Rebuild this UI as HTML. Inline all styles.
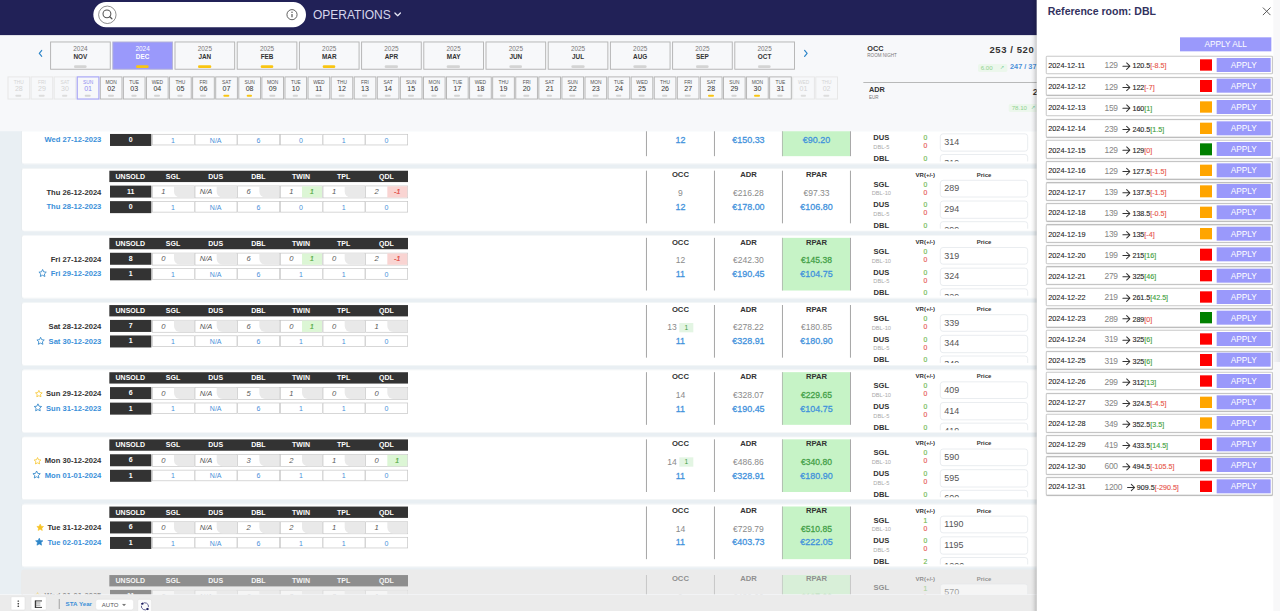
<!DOCTYPE html>
<html lang="en"><head><meta charset="utf-8"><title>Operations</title>
<style>
*{box-sizing:border-box;margin:0;padding:0}
html,body{width:1280px;height:611px;overflow:hidden;background:#f7f8fa}
body{font-family:"Liberation Sans",sans-serif;color:#333}
#vp{position:absolute;left:0;top:0;width:1280px;height:611px;overflow:hidden}
#root{position:absolute;left:0;top:0;width:1920px;height:916.5px;transform:scale(0.6666667);transform-origin:0 0;overflow:hidden;background:#f7f8fa}
#root div,#root svg,#root span.abs{position:absolute}
/* top bar */
#topbar{left:0;top:0;width:1920px;height:52.5px;background:#212157}
#search{left:139.5px;top:3px;width:319px;height:37.5px;border-radius:19px;background:#fff}
#sicon{left:6.5px;top:3.6px;width:30px;height:30px}
#iicon{left:288.5px;top:8.5px;width:20px;height:20px}
#ops{left:469.5px;top:10.5px;height:22px;line-height:22px;font-size:18px;color:#d6d6ec;white-space:nowrap}
#opschev{left:590.5px;top:17.5px;width:11px;height:7.5px}
/* header strip */
#hdr{left:0;top:52.5px;width:1920px;height:144.5px;background:#f7f8fa}
.chev{width:7.6px;height:12px}
#strip{left:0;top:0;width:1920px;height:197px}
.mon{top:62px;width:91px;height:42.5px;border:1.5px solid transparent}

.mon div{left:0;width:100%;text-align:center;white-space:nowrap}
.my{top:4.2px;font-size:9.6px;line-height:11px;color:#777}
.mm{top:17.2px;font-size:9.6px;line-height:11px;color:#333;font-weight:bold}
.mon.sel .my,.mon.sel .mm{color:#fff}
.mon .gbar,.mon .ybar{left:34.5px!important;width:19.5px!important;top:34.6px;height:4px;border-radius:2px}
.gbar{background:#d4d4d4}
.ybar{background:#f9c513}
.day{top:114.6px;width:34px;height:34.8px;border:1.5px solid transparent}
.day div{left:0;width:100%;text-align:center;white-space:nowrap}
.dw{top:3.8px;font-size:7.3px;line-height:9px;color:#555}
.dn{top:10px;font-size:10.6px;line-height:12px;color:#333}
.day .gbar,.day .ybar{left:11.2px!important;width:8.6px!important;top:26px;height:3px;border-radius:1.5px}

.day.dim .dw,.day.dim .dn{color:#d4d4d4}
.day.dim .gbar{background:#ddd}

.day.cur .dw,.day.cur .dn{color:#8f8df0}
/* KPIs */
.kt{font-size:11px;line-height:12px;margin-top:-1.4px;font-weight:bold;color:#333;white-space:nowrap}
.ks{font-size:6.8px;line-height:7px;color:#777;white-space:nowrap}
.kv{text-align:right;width:120px;font-size:14.2px;line-height:18px;font-weight:bold;color:#333;white-space:nowrap;letter-spacing:.9px;margin-top:1px}
.kb{font-size:11px;line-height:13px;font-weight:bold;color:#4a90d9;white-space:nowrap}
.pill{height:12px;background:#ecf7ec;border-radius:2.5px;font-size:9.2px;line-height:12.4px;color:#8fd28f;padding-left:4.5px;white-space:nowrap}
#root .pill .ar{position:absolute;left:33px;top:-0.5px;font-size:7.5px;color:#7fcf9f}
.kline{left:1294.5px;top:122.8px;width:270px;height:1.5px;background:#9a9a9a}
/* scroll area */
#scroll{left:0;top:0;width:1920px;height:916.5px;clip-path:inset(197px 0 25px 0);background:#e9eff3}
.card{left:33px;width:1540px;height:95px;background:#fff;box-shadow:inset 0 1px 0 #eef2f4,inset 0 -1px 0 #eef2f4,-1px 0 0 #e6eaed;border-radius:3px}
.bar{left:130.5px;top:4px;width:448px;height:17px;background:#333;transform:translateY(.1px)}
.bar span{display:inline-block;width:64px;text-align:center;color:#fff;font-weight:bold;font-size:10.5px;line-height:17.5px;vertical-align:top;padding-top:0}
.lbl{left:0;width:119px;text-align:right;font-size:11.4px;line-height:14px;font-weight:bold;white-space:nowrap;color:#333}
.l1{top:28.8px}
.l2{top:49.8px;color:#3a8fd9}
#root .lbl .star{position:static;display:inline-block;width:12.6px;height:12.6px;vertical-align:-2.3px;margin-right:4.2px}
#root .lbl .star.b{width:13.8px;height:13.8px;vertical-align:-2.2px;margin-right:5.2px}
.row{left:131.5px;height:17.5px;width:447px;white-space:nowrap}
.r1{top:26px;transform:translateY(.4px)}.r2{top:49px;transform:translateY(.7px)}
#root .row>div{position:absolute;top:0;height:17.5px}
.un{left:0;width:62.8px;background:#333;color:#fff;font-weight:bold;font-size:10.5px;line-height:17.5px;text-align:center}
.c1,.c2{width:64px;border:1px solid #c4c4c4;background:#fff}
#root .row>.c2{color:#4a90d9;font-size:10.5px;line-height:17.6px;text-align:center;height:17px}
#root .row>.c1{height:19px}
.c1 i{position:absolute;left:0;width:33px;top:0;line-height:17.6px;font-size:11.4px;color:#5a5a5a;text-align:center}
.c1 b{position:absolute;left:32.5px;right:0;top:0;bottom:0;font-size:10.4px;line-height:17.6px;text-align:center;font-style:italic;font-weight:normal}
.c1 b.g{background:#e9e9e9;border-bottom-left-radius:9px}
.c1 b.p{background:#dcf6d5;color:#55aa44;-webkit-text-stroke:.3px #55aa44}
.c1 b.n{background:#f9d4d2;color:#e0453c;-webkit-text-stroke:.3px #e0453c}
.vs{top:4px;width:2px;height:78.5px;background:#a2a2a2;transform:translateX(-.35px) scaleX(.72)}
.kc{top:4px;width:100.5px;height:78.5px}
.kc.grn{background:#c6f3c6}
.kc div{left:0;width:100%;text-align:center;white-space:nowrap}
.kh{top:-0.2px;font-size:11.5px;line-height:12px;font-weight:bold;color:#333}
.k1{top:26.8px;font-size:12.8px;line-height:14px;color:#8a8a8a}
.k2{top:47.5px;font-size:13.4px;line-height:14px;color:#3f92dc;-webkit-text-stroke:.4px #3f92dc}
.kc.grn .k1{color:#43a047;-webkit-text-stroke:.4px #43a047}
.ob{display:inline-block;background:#e3f5e3;color:#3f9f3f;font-size:10px;line-height:14px;width:21px;text-align:center;margin-left:4px;vertical-align:top}
.ps{left:0;top:0;width:1540px;height:90.6px;overflow:hidden}
.vrh{left:1325px;width:60px;top:6px;text-align:center;font-size:9px;line-height:9px;font-weight:bold;color:#333;white-space:nowrap}
.prh{left:1413px;width:60px;top:6px;text-align:center;font-size:8.9px;line-height:9px;font-weight:bold;color:#333}
.rn{left:1259px;width:60px;text-align:center;font-size:11.4px;line-height:13px;font-weight:bold;color:#333}
.rs{left:1259px;width:60px;text-align:center;font-size:8.5px;line-height:9px;color:#a9a9a9}
.vp,.vn{left:1345px;width:20px;text-align:center;font-size:10.2px;line-height:10px}
.vp{color:#74bb55;-webkit-text-stroke:.25px #74bb55}.vn{color:#e8605a;-webkit-text-stroke:.25px #e8605a}
.pin{left:1377px;width:132px;height:26.6px;border:1.5px solid #e0e4e9;border-radius:4.5px;background:#fff;font-size:13.4px;line-height:24.4px;padding-left:5.5px;color:#555}
.card{overflow:hidden}
.card.faded{background:#ebebeb;box-shadow:0 -2px 0 #ebebeb,-1px 0 0 #ebebeb,-1px -2px 0 #ebebeb}
.card.faded>*{opacity:.5}
/* bottom bar */
#bbar{left:0;transform:translateY(.5px);top:892px;width:1920px;height:25px;background:#ebebeb}
.bb{top:2.4px;height:20.4px;background:#fff;border:1px solid #e2e2e2;border-radius:2px}
.bb svg{left:0;top:0;width:100%;height:21px}
.bsep{left:88.4px;top:6.2px;width:1.5px;height:14.5px;background:#b5b5b5}
.sta{left:98.4px;top:9.3px;font-size:9.3px;line-height:11px;font-weight:bold;color:#3b8fd8;white-space:nowrap}
.auto{left:143.4px;top:6.2px;width:58px;height:17px;background:#fff;border:1px solid #e4e4e4;border-radius:4px;font-size:9px;line-height:16.2px;color:#555;padding-left:8.4px}
.auto svg{left:38px;top:5.4px;width:8.2px;height:4.2px}
/* panel */
#pshadow{left:1546px;top:0;width:9.5px;height:916.5px;background:linear-gradient(to right,rgba(0,0,0,0),rgba(0,0,0,.04) 35%,rgba(0,0,0,.13) 70%,rgba(0,0,0,.26))}
#panel{left:1555.2px;top:0;width:365px;height:916.5px;background:#fff}
#ptitle{left:16.3px;top:7px;font-size:15.8px;line-height:19px;font-weight:bold;color:#32325e;white-space:nowrap}
#pclose{left:338px;top:10.4px;width:14px;height:14px}
#applyall{left:214.8px;top:56.2px;width:137px;height:20.6px;background:#9a99fb;color:#fff;font-size:12.4px;line-height:21.6px;text-align:center}
.prow{left:13.5px;width:340.5px;height:27.2px;border:1.5px solid #bcbcbc;box-shadow:0 0 1.5px rgba(0,0,0,.28);background:#fff;border-radius:2px}
#root .prow span{position:absolute}
.pd{left:2.6px;top:7.1px;font-size:11px;line-height:12px;color:#222;-webkit-text-stroke:.12px #222;white-space:nowrap}
.pa{left:87px;top:5.4px;font-size:12.6px;letter-spacing:-.35px;line-height:14px;color:#858585;white-space:nowrap}
#root .parr{position:relative;display:inline-block;top:2.6px;margin-left:6.4px;margin-right:2.2px;width:13.4px;height:12.5px}
#root .prow .pb{position:static;font-size:10.7px;line-height:12px;color:#2a2a2a;-webkit-text-stroke:.2px #2a2a2a;white-space:nowrap;letter-spacing:0}
#root .prow .pb span{position:static}
.dn_{color:#e8564c;-webkit-text-stroke:.2px #e8564c}.dp_{color:#3f9f3f;-webkit-text-stroke:.2px #3f9f3f}
.sq{left:230.5px;top:3.8px;width:18px;height:17.3px}
.ap{left:255.8px;top:1.8px;width:80.6px;height:21px;background:#9a99fb;color:#fff;font-size:12.4px;line-height:22.6px;text-align:center}

#sbar{left:1910px;top:235.5px;width:10px;height:307px;background:linear-gradient(to right,#f4f4f6,#e4e5e9)}
#strk{left:1910px;top:0;width:10px;height:916.5px;background:#f8f8f9}

.card.faded>*{margin-top:1.6px}
.card.cd6 .l1{top:27.9px}
.card.cd3 .l2{top:50.8px}
.card.cd6 .k2{top:46.8px}

</style></head>
<body><div id="vp"><div id="root">
<div id="topbar"></div>
<div id="search"><svg id="sicon" viewBox="0 0 30 30"><circle cx="15" cy="15.2" r="13.1" fill="none" stroke="#666" stroke-width="1.1"/><circle cx="14.4" cy="13.8" r="5.9" fill="none" stroke="#555" stroke-width="1.6"/><path d="M18.7 18.2 L21.9 21.2" stroke="#555" stroke-width="1.8" stroke-linecap="round"/></svg><svg id="iicon" viewBox="0 0 20 20"><circle cx="10" cy="10" r="7.6" fill="none" stroke="#555" stroke-width="1.4"/><path d="M10 9 V14" stroke="#555" stroke-width="1.8"/><circle cx="10" cy="6.3" r="1.1" fill="#555"/></svg></div>
<div id="ops">OPERATIONS</div><svg id="opschev" viewBox="0 0 12 8"><path d="M1.5 1.5 L6 6 L10.5 1.5" fill="none" stroke="#e6e6f5" stroke-width="2.1" stroke-linecap="round" stroke-linejoin="round"/></svg>
<div id="hdr"></div>
<svg class="chev" style="left:56.60px;top:74.20px" viewBox="0 0 10 16"><path d="M7.5 2 L2.5 8 L7.5 14" fill="none" stroke="#2e86c9" stroke-width="2.4" stroke-linecap="round" stroke-linejoin="round"/></svg>
<svg id="strip" viewBox="0 0 1920 197"><rect x="75.90" y="62.95" width="89.50" height="40.9" fill="#f7f8fa" stroke="#b3b3b3" stroke-width="1.4"/><rect x="169.20" y="62.95" width="89.50" height="40.9" fill="#9a99fb" stroke="#b4b3d6" stroke-width="1.4"/><rect x="262.50" y="62.95" width="89.50" height="40.9" fill="#f7f8fa" stroke="#b3b3b3" stroke-width="1.4"/><rect x="355.80" y="62.95" width="89.50" height="40.9" fill="#f7f8fa" stroke="#b3b3b3" stroke-width="1.4"/><rect x="449.10" y="62.95" width="89.50" height="40.9" fill="#f7f8fa" stroke="#b3b3b3" stroke-width="1.4"/><rect x="542.40" y="62.95" width="89.50" height="40.9" fill="#f7f8fa" stroke="#b3b3b3" stroke-width="1.4"/><rect x="635.70" y="62.95" width="89.50" height="40.9" fill="#f7f8fa" stroke="#b3b3b3" stroke-width="1.4"/><rect x="729.00" y="62.95" width="89.50" height="40.9" fill="#f7f8fa" stroke="#b3b3b3" stroke-width="1.4"/><rect x="822.30" y="62.95" width="89.50" height="40.9" fill="#f7f8fa" stroke="#b3b3b3" stroke-width="1.4"/><rect x="915.60" y="62.95" width="89.50" height="40.9" fill="#f7f8fa" stroke="#b3b3b3" stroke-width="1.4"/><rect x="1008.90" y="62.95" width="89.50" height="40.9" fill="#f7f8fa" stroke="#b3b3b3" stroke-width="1.4"/><rect x="1102.20" y="62.95" width="89.50" height="40.9" fill="#f7f8fa" stroke="#b3b3b3" stroke-width="1.4"/><rect x="12.00" y="115.35" width="32.50" height="33.2" fill="#f7f8fa" stroke="#e6e6e6" stroke-width="1.4"/><rect x="46.62" y="115.35" width="32.50" height="33.2" fill="#f7f8fa" stroke="#e6e6e6" stroke-width="1.4"/><rect x="81.24" y="115.35" width="32.50" height="33.2" fill="#f7f8fa" stroke="#e6e6e6" stroke-width="1.4"/><rect x="115.86" y="115.35" width="32.50" height="33.2" fill="#f7f8fa" stroke="#a9a7f5" stroke-width="1.8"/><rect x="150.48" y="115.35" width="32.50" height="33.2" fill="#f7f8fa" stroke="#b3b3b3" stroke-width="1.4"/><rect x="185.10" y="115.35" width="32.50" height="33.2" fill="#f7f8fa" stroke="#b3b3b3" stroke-width="1.4"/><rect x="219.72" y="115.35" width="32.50" height="33.2" fill="#f7f8fa" stroke="#b3b3b3" stroke-width="1.4"/><rect x="254.34" y="115.35" width="32.50" height="33.2" fill="#f7f8fa" stroke="#b3b3b3" stroke-width="1.4"/><rect x="288.96" y="115.35" width="32.50" height="33.2" fill="#f7f8fa" stroke="#b3b3b3" stroke-width="1.4"/><rect x="323.58" y="115.35" width="32.50" height="33.2" fill="#f7f8fa" stroke="#b3b3b3" stroke-width="1.4"/><rect x="358.20" y="115.35" width="32.50" height="33.2" fill="#f7f8fa" stroke="#b3b3b3" stroke-width="1.4"/><rect x="392.82" y="115.35" width="32.50" height="33.2" fill="#f7f8fa" stroke="#b3b3b3" stroke-width="1.4"/><rect x="427.44" y="115.35" width="32.50" height="33.2" fill="#f7f8fa" stroke="#b3b3b3" stroke-width="1.4"/><rect x="462.06" y="115.35" width="32.50" height="33.2" fill="#f7f8fa" stroke="#b3b3b3" stroke-width="1.4"/><rect x="496.68" y="115.35" width="32.50" height="33.2" fill="#f7f8fa" stroke="#b3b3b3" stroke-width="1.4"/><rect x="531.30" y="115.35" width="32.50" height="33.2" fill="#f7f8fa" stroke="#b3b3b3" stroke-width="1.4"/><rect x="565.92" y="115.35" width="32.50" height="33.2" fill="#f7f8fa" stroke="#b3b3b3" stroke-width="1.4"/><rect x="600.54" y="115.35" width="32.50" height="33.2" fill="#f7f8fa" stroke="#b3b3b3" stroke-width="1.4"/><rect x="635.16" y="115.35" width="32.50" height="33.2" fill="#f7f8fa" stroke="#b3b3b3" stroke-width="1.4"/><rect x="669.78" y="115.35" width="32.50" height="33.2" fill="#f7f8fa" stroke="#b3b3b3" stroke-width="1.4"/><rect x="704.40" y="115.35" width="32.50" height="33.2" fill="#f7f8fa" stroke="#b3b3b3" stroke-width="1.4"/><rect x="739.02" y="115.35" width="32.50" height="33.2" fill="#f7f8fa" stroke="#b3b3b3" stroke-width="1.4"/><rect x="773.64" y="115.35" width="32.50" height="33.2" fill="#f7f8fa" stroke="#b3b3b3" stroke-width="1.4"/><rect x="808.26" y="115.35" width="32.50" height="33.2" fill="#f7f8fa" stroke="#b3b3b3" stroke-width="1.4"/><rect x="842.88" y="115.35" width="32.50" height="33.2" fill="#f7f8fa" stroke="#b3b3b3" stroke-width="1.4"/><rect x="877.50" y="115.35" width="32.50" height="33.2" fill="#f7f8fa" stroke="#b3b3b3" stroke-width="1.4"/><rect x="912.12" y="115.35" width="32.50" height="33.2" fill="#f7f8fa" stroke="#b3b3b3" stroke-width="1.4"/><rect x="946.74" y="115.35" width="32.50" height="33.2" fill="#f7f8fa" stroke="#b3b3b3" stroke-width="1.4"/><rect x="981.36" y="115.35" width="32.50" height="33.2" fill="#f7f8fa" stroke="#b3b3b3" stroke-width="1.4"/><rect x="1015.98" y="115.35" width="32.50" height="33.2" fill="#f7f8fa" stroke="#b3b3b3" stroke-width="1.4"/><rect x="1050.60" y="115.35" width="32.50" height="33.2" fill="#f7f8fa" stroke="#b3b3b3" stroke-width="1.4"/><rect x="1085.22" y="115.35" width="32.50" height="33.2" fill="#f7f8fa" stroke="#b3b3b3" stroke-width="1.4"/><rect x="1119.84" y="115.35" width="32.50" height="33.2" fill="#f7f8fa" stroke="#b3b3b3" stroke-width="1.4"/><rect x="1154.46" y="115.35" width="32.50" height="33.2" fill="#f7f8fa" stroke="#b3b3b3" stroke-width="1.4"/><rect x="1189.08" y="115.35" width="32.50" height="33.2" fill="#f7f8fa" stroke="#e6e6e6" stroke-width="1.4"/><rect x="1223.70" y="115.35" width="32.50" height="33.2" fill="#f7f8fa" stroke="#e6e6e6" stroke-width="1.4"/></svg>
<div class="mon" style="left:75.15px"><div class="my">2024</div><div class="mm">NOV</div><div class="gbar"></div></div>
<div class="mon sel" style="left:168.45px"><div class="my">2024</div><div class="mm">DEC</div><div class="ybar"></div></div>
<div class="mon" style="left:261.75px"><div class="my">2025</div><div class="mm">JAN</div><div class="ybar"></div></div>
<div class="mon" style="left:355.05px"><div class="my">2025</div><div class="mm">FEB</div><div class="ybar"></div></div>
<div class="mon" style="left:448.35px"><div class="my">2025</div><div class="mm">MAR</div><div class="ybar"></div></div>
<div class="mon" style="left:541.65px"><div class="my">2025</div><div class="mm">APR</div><div class="gbar"></div></div>
<div class="mon" style="left:634.95px"><div class="my">2025</div><div class="mm">MAY</div><div class="gbar"></div></div>
<div class="mon" style="left:728.25px"><div class="my">2025</div><div class="mm">JUN</div><div class="gbar"></div></div>
<div class="mon" style="left:821.55px"><div class="my">2025</div><div class="mm">JUL</div><div class="gbar"></div></div>
<div class="mon" style="left:914.85px"><div class="my">2025</div><div class="mm">AUG</div><div class="gbar"></div></div>
<div class="mon" style="left:1008.15px"><div class="my">2025</div><div class="mm">SEP</div><div class="gbar"></div></div>
<div class="mon" style="left:1101.45px"><div class="my">2025</div><div class="mm">OCT</div><div class="gbar"></div></div>
<svg class="chev" style="left:1204.50px;top:74.20px" viewBox="0 0 10 16"><path d="M2.5 2 L7.5 8 L2.5 14" fill="none" stroke="#2e86c9" stroke-width="2.4" stroke-linecap="round" stroke-linejoin="round"/></svg>
<div class="day dim" style="left:11.25px"><div class="dw">THU</div><div class="dn">28</div><div class="gbar"></div></div>
<div class="day dim" style="left:45.87px"><div class="dw">FRI</div><div class="dn">29</div><div class="gbar"></div></div>
<div class="day dim" style="left:80.49px"><div class="dw">SAT</div><div class="dn">30</div><div class="gbar"></div></div>
<div class="day cur" style="left:115.11px"><div class="dw">SUN</div><div class="dn">01</div><div class="gbar"></div></div>
<div class="day " style="left:149.73px"><div class="dw">MON</div><div class="dn">02</div><div class="gbar"></div></div>
<div class="day " style="left:184.35px"><div class="dw">TUE</div><div class="dn">03</div><div class="gbar"></div></div>
<div class="day " style="left:218.97px"><div class="dw">WED</div><div class="dn">04</div><div class="gbar"></div></div>
<div class="day " style="left:253.59px"><div class="dw">THU</div><div class="dn">05</div><div class="gbar"></div></div>
<div class="day " style="left:288.21px"><div class="dw">FRI</div><div class="dn">06</div><div class="gbar"></div></div>
<div class="day " style="left:322.83px"><div class="dw">SAT</div><div class="dn">07</div><div class="ybar"></div></div>
<div class="day " style="left:357.45px"><div class="dw">SUN</div><div class="dn">08</div><div class="ybar"></div></div>
<div class="day " style="left:392.07px"><div class="dw">MON</div><div class="dn">09</div><div class="gbar"></div></div>
<div class="day " style="left:426.69px"><div class="dw">TUE</div><div class="dn">10</div><div class="gbar"></div></div>
<div class="day " style="left:461.31px"><div class="dw">WED</div><div class="dn">11</div><div class="gbar"></div></div>
<div class="day " style="left:495.93px"><div class="dw">THU</div><div class="dn">12</div><div class="gbar"></div></div>
<div class="day " style="left:530.55px"><div class="dw">FRI</div><div class="dn">13</div><div class="gbar"></div></div>
<div class="day " style="left:565.17px"><div class="dw">SAT</div><div class="dn">14</div><div class="gbar"></div></div>
<div class="day " style="left:599.79px"><div class="dw">SUN</div><div class="dn">15</div><div class="gbar"></div></div>
<div class="day " style="left:634.41px"><div class="dw">MON</div><div class="dn">16</div><div class="gbar"></div></div>
<div class="day " style="left:669.03px"><div class="dw">TUE</div><div class="dn">17</div><div class="gbar"></div></div>
<div class="day " style="left:703.65px"><div class="dw">WED</div><div class="dn">18</div><div class="gbar"></div></div>
<div class="day " style="left:738.27px"><div class="dw">THU</div><div class="dn">19</div><div class="gbar"></div></div>
<div class="day " style="left:772.89px"><div class="dw">FRI</div><div class="dn">20</div><div class="gbar"></div></div>
<div class="day " style="left:807.51px"><div class="dw">SAT</div><div class="dn">21</div><div class="gbar"></div></div>
<div class="day " style="left:842.13px"><div class="dw">SUN</div><div class="dn">22</div><div class="gbar"></div></div>
<div class="day " style="left:876.75px"><div class="dw">MON</div><div class="dn">23</div><div class="gbar"></div></div>
<div class="day " style="left:911.37px"><div class="dw">TUE</div><div class="dn">24</div><div class="gbar"></div></div>
<div class="day " style="left:945.99px"><div class="dw">WED</div><div class="dn">25</div><div class="gbar"></div></div>
<div class="day " style="left:980.61px"><div class="dw">THU</div><div class="dn">26</div><div class="gbar"></div></div>
<div class="day " style="left:1015.23px"><div class="dw">FRI</div><div class="dn">27</div><div class="gbar"></div></div>
<div class="day " style="left:1049.85px"><div class="dw">SAT</div><div class="dn">28</div><div class="ybar"></div></div>
<div class="day " style="left:1084.47px"><div class="dw">SUN</div><div class="dn">29</div><div class="gbar"></div></div>
<div class="day " style="left:1119.09px"><div class="dw">MON</div><div class="dn">30</div><div class="ybar"></div></div>
<div class="day " style="left:1153.71px"><div class="dw">TUE</div><div class="dn">31</div><div class="gbar"></div></div>
<div class="day dim" style="left:1188.33px"><div class="dw">WED</div><div class="dn">01</div><div class="gbar"></div></div>
<div class="day dim" style="left:1222.95px"><div class="dw">THU</div><div class="dn">02</div><div class="gbar"></div></div>
<div class="kt" style="left:1301px;top:67.5px">OCC</div><div class="ks" style="left:1301px;top:80px">ROOM NIGHT</div>
<div class="kv" style="left:1431.5px;top:65px">253 / 520</div>
<div class="pill" style="left:1466.5px;top:95.5px;width:44.5px">6.00 <span class="ar">&#8599;</span></div>
<div class="kb" style="left:1515px;top:94px">247 / 37</div>
<div class="kline"></div>
<div class="kt" style="left:1303.5px;top:129px">ADR</div><div class="ks" style="left:1303.5px;top:141.5px">EUR</div>
<div class="kv" style="left:1549px;top:127px;text-align:left">2</div>
<div class="pill" style="left:1513px;top:156px;width:46px">78.10 <span class="ar">&#8599;</span></div>
<div id="scroll">
<div class="card cd0" style="top:151px;transform:translateY(0.25px)">
<div class="bar"><span>UNSOLD</span><span>SGL</span><span>DUS</span><span>DBL</span><span>TWIN</span><span>TPL</span><span>QDL</span></div>
<div class="lbl l2">Wed 27-12-2023</div>
<div class="row r2"><div class="un">0</div><div class="c2" style="left:63px">1</div><div class="c2" style="left:127px">N/A</div><div class="c2" style="left:191px">6</div><div class="c2" style="left:255px">0</div><div class="c2" style="left:319px">1</div><div class="c2" style="left:383px">0</div></div>
<div class="vs" style="left:936px"></div>
<div class="vs" style="left:1038px"></div>
<div class="vs" style="left:1140px"></div>
<div class="vs" style="left:1242px"></div>
<div class="kc" style="left:937.35px"><div class="kh">OCC</div><div class="k2">12</div></div>
<div class="kc" style="left:1039.42px"><div class="kh">ADR</div><div class="k2">€150.33</div></div>
<div class="kc grn" style="left:1141.49px"><div class="kh">RPAR</div><div class="k2">€90.20</div></div>
<div class="ps"><div class="vrh">VR(+/-)</div><div class="prh">Price</div>
<div class="rn" style="top:17.90px">SGL</div>
<div class="rs" style="top:33.90px">DBL-10</div>
<div class="vp" style="top:20px">0</div>
<div class="vn" style="top:32.40px">0</div>
<div class="pin" style="top:17.70px">309</div>
<div class="rn" style="top:48.90px">DUS</div>
<div class="rs" style="top:64.90px">DBL-5</div>
<div class="vp" style="top:51px">0</div>
<div class="vn" style="top:63.40px">0</div>
<div class="pin" style="top:49px">314</div>
<div class="rn" style="top:79.90px">DBL</div>
<div class="rs" style="top:95.90px">DBL</div>
<div class="vp" style="top:82px">0</div>
<div class="vn" style="top:94.40px">0</div>
<div class="pin" style="top:80.30px">319</div>
</div>
</div>
<div class="card cd1" style="top:252px">
<div class="bar"><span>UNSOLD</span><span>SGL</span><span>DUS</span><span>DBL</span><span>TWIN</span><span>TPL</span><span>QDL</span></div>
<div class="lbl l1">Thu 26-12-2024</div>
<div class="lbl l2">Thu 28-12-2023</div>
<div class="row r1"><div class="un">11</div><div class="c1" style="left:63px"><i>1</i><b class="g"></b></div><div class="c1" style="left:127px"><i>N/A</i><b class="g"></b></div><div class="c1" style="left:191px"><i>6</i><b class="g"></b></div><div class="c1" style="left:255px"><i>1</i><b class="p">1</b></div><div class="c1" style="left:319px"><i>1</i><b class="g"></b></div><div class="c1" style="left:383px"><i>2</i><b class="n">-1</b></div></div>
<div class="row r2"><div class="un">0</div><div class="c2" style="left:63px">1</div><div class="c2" style="left:127px">N/A</div><div class="c2" style="left:191px">6</div><div class="c2" style="left:255px">0</div><div class="c2" style="left:319px">1</div><div class="c2" style="left:383px">0</div></div>
<div class="vs" style="left:936px"></div>
<div class="vs" style="left:1038px"></div>
<div class="vs" style="left:1140px"></div>
<div class="vs" style="left:1242px"></div>
<div class="kc" style="left:937.35px"><div class="kh">OCC</div><div class="k1">9</div><div class="k2">12</div></div>
<div class="kc" style="left:1039.42px"><div class="kh">ADR</div><div class="k1">€216.28</div><div class="k2">€178.00</div></div>
<div class="kc" style="left:1141.49px"><div class="kh">RPAR</div><div class="k1">€97.33</div><div class="k2">€106.80</div></div>
<div class="ps"><div class="vrh">VR(+/-)</div><div class="prh">Price</div>
<div class="rn" style="top:17.90px">SGL</div>
<div class="rs" style="top:33.90px">DBL-10</div>
<div class="vp" style="top:20px">0</div>
<div class="vn" style="top:32.40px">0</div>
<div class="pin" style="top:17.70px">289</div>
<div class="rn" style="top:48.90px">DUS</div>
<div class="rs" style="top:64.90px">DBL-5</div>
<div class="vp" style="top:51px">0</div>
<div class="vn" style="top:63.40px">0</div>
<div class="pin" style="top:49px">294</div>
<div class="rn" style="top:79.90px">DBL</div>
<div class="rs" style="top:95.90px">DBL</div>
<div class="vp" style="top:82px">0</div>
<div class="vn" style="top:94.40px">0</div>
<div class="pin" style="top:80.30px">299</div>
</div>
</div>
<div class="card cd2" style="top:352px;transform:translateY(0.75px)">
<div class="bar"><span>UNSOLD</span><span>SGL</span><span>DUS</span><span>DBL</span><span>TWIN</span><span>TPL</span><span>QDL</span></div>
<div class="lbl l1">Fri 27-12-2024</div>
<div class="lbl l2"><svg class="star b" viewBox="0 0 24 24"><path d="M12 2.6 L14.9 8.8 L21.6 9.6 L16.7 14.2 L18 20.9 L12 17.6 L6 20.9 L7.3 14.2 L2.4 9.6 L9.1 8.8 Z" fill="none" stroke="#2e86c9" stroke-width="2.2" stroke-linejoin="round"/></svg>Fri 29-12-2023</div>
<div class="row r1"><div class="un">8</div><div class="c1" style="left:63px"><i>0</i><b class="g"></b></div><div class="c1" style="left:127px"><i>N/A</i><b class="g"></b></div><div class="c1" style="left:191px"><i>6</i><b class="g"></b></div><div class="c1" style="left:255px"><i>0</i><b class="p">1</b></div><div class="c1" style="left:319px"><i>0</i><b class="g"></b></div><div class="c1" style="left:383px"><i>2</i><b class="n">-1</b></div></div>
<div class="row r2"><div class="un">1</div><div class="c2" style="left:63px">1</div><div class="c2" style="left:127px">N/A</div><div class="c2" style="left:191px">6</div><div class="c2" style="left:255px">1</div><div class="c2" style="left:319px">1</div><div class="c2" style="left:383px">0</div></div>
<div class="vs" style="left:936px"></div>
<div class="vs" style="left:1038px"></div>
<div class="vs" style="left:1140px"></div>
<div class="vs" style="left:1242px"></div>
<div class="kc" style="left:937.35px"><div class="kh">OCC</div><div class="k1">12</div><div class="k2">11</div></div>
<div class="kc" style="left:1039.42px"><div class="kh">ADR</div><div class="k1">€242.30</div><div class="k2">€190.45</div></div>
<div class="kc grn" style="left:1141.49px"><div class="kh">RPAR</div><div class="k1">€145.38</div><div class="k2">€104.75</div></div>
<div class="ps"><div class="vrh">VR(+/-)</div><div class="prh">Price</div>
<div class="rn" style="top:17.90px">SGL</div>
<div class="rs" style="top:33.90px">DBL-10</div>
<div class="vp" style="top:20px">0</div>
<div class="vn" style="top:32.40px">0</div>
<div class="pin" style="top:17.70px">319</div>
<div class="rn" style="top:48.90px">DUS</div>
<div class="rs" style="top:64.90px">DBL-5</div>
<div class="vp" style="top:51px">0</div>
<div class="vn" style="top:63.40px">0</div>
<div class="pin" style="top:49px">324</div>
<div class="rn" style="top:79.90px">DBL</div>
<div class="rs" style="top:95.90px">DBL</div>
<div class="vp" style="top:82px">0</div>
<div class="vn" style="top:94.40px">0</div>
<div class="pin" style="top:80.30px">329</div>
</div>
</div>
<div class="card cd3" style="top:453px;transform:translateY(0.50px)">
<div class="bar"><span>UNSOLD</span><span>SGL</span><span>DUS</span><span>DBL</span><span>TWIN</span><span>TPL</span><span>QDL</span></div>
<div class="lbl l1">Sat 28-12-2024</div>
<div class="lbl l2"><svg class="star b" viewBox="0 0 24 24"><path d="M12 2.6 L14.9 8.8 L21.6 9.6 L16.7 14.2 L18 20.9 L12 17.6 L6 20.9 L7.3 14.2 L2.4 9.6 L9.1 8.8 Z" fill="none" stroke="#2e86c9" stroke-width="2.2" stroke-linejoin="round"/></svg>Sat 30-12-2023</div>
<div class="row r1"><div class="un">7</div><div class="c1" style="left:63px"><i>0</i><b class="g"></b></div><div class="c1" style="left:127px"><i>N/A</i><b class="g"></b></div><div class="c1" style="left:191px"><i>6</i><b class="g"></b></div><div class="c1" style="left:255px"><i>0</i><b class="p">1</b></div><div class="c1" style="left:319px"><i>0</i><b class="g"></b></div><div class="c1" style="left:383px"><i>1</i><b class="g"></b></div></div>
<div class="row r2"><div class="un">1</div><div class="c2" style="left:63px">1</div><div class="c2" style="left:127px">N/A</div><div class="c2" style="left:191px">6</div><div class="c2" style="left:255px">1</div><div class="c2" style="left:319px">1</div><div class="c2" style="left:383px">0</div></div>
<div class="vs" style="left:936px"></div>
<div class="vs" style="left:1038px"></div>
<div class="vs" style="left:1140px"></div>
<div class="vs" style="left:1242px"></div>
<div class="kc" style="left:937.35px"><div class="kh">OCC</div><div class="k1">13<span class="ob">1</span></div><div class="k2">11</div></div>
<div class="kc" style="left:1039.42px"><div class="kh">ADR</div><div class="k1">€278.22</div><div class="k2">€328.91</div></div>
<div class="kc" style="left:1141.49px"><div class="kh">RPAR</div><div class="k1">€180.85</div><div class="k2">€180.90</div></div>
<div class="ps"><div class="vrh">VR(+/-)</div><div class="prh">Price</div>
<div class="rn" style="top:17.90px">SGL</div>
<div class="rs" style="top:33.90px">DBL-10</div>
<div class="vp" style="top:20px">0</div>
<div class="vn" style="top:32.40px">0</div>
<div class="pin" style="top:17.70px">339</div>
<div class="rn" style="top:48.90px">DUS</div>
<div class="rs" style="top:64.90px">DBL-5</div>
<div class="vp" style="top:51px">0</div>
<div class="vn" style="top:63.40px">0</div>
<div class="pin" style="top:49px">344</div>
<div class="rn" style="top:79.90px">DBL</div>
<div class="rs" style="top:95.90px">DBL</div>
<div class="vp" style="top:82px">0</div>
<div class="vn" style="top:94.40px">0</div>
<div class="pin" style="top:80.30px">349</div>
</div>
</div>
<div class="card cd4" style="top:554px;transform:translateY(0.25px)">
<div class="bar"><span>UNSOLD</span><span>SGL</span><span>DUS</span><span>DBL</span><span>TWIN</span><span>TPL</span><span>QDL</span></div>
<div class="lbl l1"><svg class="star" viewBox="0 0 24 24"><path d="M12 2.6 L14.9 8.8 L21.6 9.6 L16.7 14.2 L18 20.9 L12 17.6 L6 20.9 L7.3 14.2 L2.4 9.6 L9.1 8.8 Z" fill="none" stroke="#f7c325" stroke-width="2.2" stroke-linejoin="round"/></svg>Sun 29-12-2024</div>
<div class="lbl l2"><svg class="star b" viewBox="0 0 24 24"><path d="M12 2.6 L14.9 8.8 L21.6 9.6 L16.7 14.2 L18 20.9 L12 17.6 L6 20.9 L7.3 14.2 L2.4 9.6 L9.1 8.8 Z" fill="none" stroke="#2e86c9" stroke-width="2.2" stroke-linejoin="round"/></svg>Sun 31-12-2023</div>
<div class="row r1"><div class="un">6</div><div class="c1" style="left:63px"><i>0</i><b class="g"></b></div><div class="c1" style="left:127px"><i>N/A</i><b class="g"></b></div><div class="c1" style="left:191px"><i>5</i><b class="g"></b></div><div class="c1" style="left:255px"><i>1</i><b class="g"></b></div><div class="c1" style="left:319px"><i>0</i><b class="g"></b></div><div class="c1" style="left:383px"><i>0</i><b class="g"></b></div></div>
<div class="row r2"><div class="un">1</div><div class="c2" style="left:63px">1</div><div class="c2" style="left:127px">N/A</div><div class="c2" style="left:191px">6</div><div class="c2" style="left:255px">1</div><div class="c2" style="left:319px">1</div><div class="c2" style="left:383px">0</div></div>
<div class="vs" style="left:936px"></div>
<div class="vs" style="left:1038px"></div>
<div class="vs" style="left:1140px"></div>
<div class="vs" style="left:1242px"></div>
<div class="kc" style="left:937.35px"><div class="kh">OCC</div><div class="k1">14</div><div class="k2">11</div></div>
<div class="kc" style="left:1039.42px"><div class="kh">ADR</div><div class="k1">€328.07</div><div class="k2">€190.45</div></div>
<div class="kc grn" style="left:1141.49px"><div class="kh">RPAR</div><div class="k1">€229.65</div><div class="k2">€104.75</div></div>
<div class="ps"><div class="vrh">VR(+/-)</div><div class="prh">Price</div>
<div class="rn" style="top:17.90px">SGL</div>
<div class="rs" style="top:33.90px">DBL-10</div>
<div class="vp" style="top:20px">0</div>
<div class="vn" style="top:32.40px">0</div>
<div class="pin" style="top:17.70px">409</div>
<div class="rn" style="top:48.90px">DUS</div>
<div class="rs" style="top:64.90px">DBL-5</div>
<div class="vp" style="top:51px">0</div>
<div class="vn" style="top:63.40px">0</div>
<div class="pin" style="top:49px">414</div>
<div class="rn" style="top:79.90px">DBL</div>
<div class="rs" style="top:95.90px">DBL</div>
<div class="vp" style="top:82px">0</div>
<div class="vn" style="top:94.40px">0</div>
<div class="pin" style="top:80.30px">419</div>
</div>
</div>
<div class="card cd5" style="top:655px">
<div class="bar"><span>UNSOLD</span><span>SGL</span><span>DUS</span><span>DBL</span><span>TWIN</span><span>TPL</span><span>QDL</span></div>
<div class="lbl l1"><svg class="star" viewBox="0 0 24 24"><path d="M12 2.6 L14.9 8.8 L21.6 9.6 L16.7 14.2 L18 20.9 L12 17.6 L6 20.9 L7.3 14.2 L2.4 9.6 L9.1 8.8 Z" fill="none" stroke="#f7c325" stroke-width="2.2" stroke-linejoin="round"/></svg>Mon 30-12-2024</div>
<div class="lbl l2"><svg class="star b" viewBox="0 0 24 24"><path d="M12 2.6 L14.9 8.8 L21.6 9.6 L16.7 14.2 L18 20.9 L12 17.6 L6 20.9 L7.3 14.2 L2.4 9.6 L9.1 8.8 Z" fill="none" stroke="#2e86c9" stroke-width="2.2" stroke-linejoin="round"/></svg>Mon 01-01-2024</div>
<div class="row r1"><div class="un">6</div><div class="c1" style="left:63px"><i>0</i><b class="g"></b></div><div class="c1" style="left:127px"><i>N/A</i><b class="g"></b></div><div class="c1" style="left:191px"><i>3</i><b class="g"></b></div><div class="c1" style="left:255px"><i>2</i><b class="g"></b></div><div class="c1" style="left:319px"><i>1</i><b class="g"></b></div><div class="c1" style="left:383px"><i>0</i><b class="p">1</b></div></div>
<div class="row r2"><div class="un">1</div><div class="c2" style="left:63px">1</div><div class="c2" style="left:127px">N/A</div><div class="c2" style="left:191px">6</div><div class="c2" style="left:255px">1</div><div class="c2" style="left:319px">1</div><div class="c2" style="left:383px">0</div></div>
<div class="vs" style="left:936px"></div>
<div class="vs" style="left:1038px"></div>
<div class="vs" style="left:1140px"></div>
<div class="vs" style="left:1242px"></div>
<div class="kc" style="left:937.35px"><div class="kh">OCC</div><div class="k1">14<span class="ob">1</span></div><div class="k2">11</div></div>
<div class="kc" style="left:1039.42px"><div class="kh">ADR</div><div class="k1">€486.86</div><div class="k2">€328.91</div></div>
<div class="kc grn" style="left:1141.49px"><div class="kh">RPAR</div><div class="k1">€340.80</div><div class="k2">€180.90</div></div>
<div class="ps"><div class="vrh">VR(+/-)</div><div class="prh">Price</div>
<div class="rn" style="top:17.90px">SGL</div>
<div class="rs" style="top:33.90px">DBL-10</div>
<div class="vp" style="top:20px">0</div>
<div class="vn" style="top:32.40px">0</div>
<div class="pin" style="top:17.70px">590</div>
<div class="rn" style="top:48.90px">DUS</div>
<div class="rs" style="top:64.90px">DBL-5</div>
<div class="vp" style="top:51px">0</div>
<div class="vn" style="top:63.40px">0</div>
<div class="pin" style="top:49px">595</div>
<div class="rn" style="top:79.90px">DBL</div>
<div class="rs" style="top:95.90px">DBL</div>
<div class="vp" style="top:82px">0</div>
<div class="vn" style="top:94.40px">0</div>
<div class="pin" style="top:80.30px">600</div>
</div>
</div>
<div class="card cd6" style="top:755px;transform:translateY(0.75px)">
<div class="bar"><span>UNSOLD</span><span>SGL</span><span>DUS</span><span>DBL</span><span>TWIN</span><span>TPL</span><span>QDL</span></div>
<div class="lbl l1"><svg class="star" viewBox="0 0 24 24"><path d="M12 2.6 L14.9 8.8 L21.6 9.6 L16.7 14.2 L18 20.9 L12 17.6 L6 20.9 L7.3 14.2 L2.4 9.6 L9.1 8.8 Z" fill="#f7c325" stroke="#f7c325" stroke-width="1.6" stroke-linejoin="round"/></svg>Tue 31-12-2024</div>
<div class="lbl l2"><svg class="star b" viewBox="0 0 24 24"><path d="M12 2.6 L14.9 8.8 L21.6 9.6 L16.7 14.2 L18 20.9 L12 17.6 L6 20.9 L7.3 14.2 L2.4 9.6 L9.1 8.8 Z" fill="#2e86c9" stroke="#2e86c9" stroke-width="1.6" stroke-linejoin="round"/></svg>Tue 02-01-2024</div>
<div class="row r1"><div class="un">6</div><div class="c1" style="left:63px"><i>0</i><b class="g"></b></div><div class="c1" style="left:127px"><i>N/A</i><b class="g"></b></div><div class="c1" style="left:191px"><i>2</i><b class="g"></b></div><div class="c1" style="left:255px"><i>2</i><b class="g"></b></div><div class="c1" style="left:319px"><i>1</i><b class="g"></b></div><div class="c1" style="left:383px"><i>1</i><b class="g"></b></div></div>
<div class="row r2"><div class="un">1</div><div class="c2" style="left:63px">1</div><div class="c2" style="left:127px">N/A</div><div class="c2" style="left:191px">6</div><div class="c2" style="left:255px">1</div><div class="c2" style="left:319px">1</div><div class="c2" style="left:383px">0</div></div>
<div class="vs" style="left:936px"></div>
<div class="vs" style="left:1038px"></div>
<div class="vs" style="left:1140px"></div>
<div class="vs" style="left:1242px"></div>
<div class="kc" style="left:937.35px"><div class="kh">OCC</div><div class="k1">14</div><div class="k2">11</div></div>
<div class="kc" style="left:1039.42px"><div class="kh">ADR</div><div class="k1">€729.79</div><div class="k2">€403.73</div></div>
<div class="kc grn" style="left:1141.49px"><div class="kh">RPAR</div><div class="k1">€510.85</div><div class="k2">€222.05</div></div>
<div class="ps"><div class="vrh">VR(+/-)</div><div class="prh">Price</div>
<div class="rn" style="top:17.90px">SGL</div>
<div class="rs" style="top:33.90px">DBL-10</div>
<div class="vp" style="top:20px">1</div>
<div class="vn" style="top:32.40px">0</div>
<div class="pin" style="top:17.70px">1190</div>
<div class="rn" style="top:48.90px">DUS</div>
<div class="rs" style="top:64.90px">DBL-5</div>
<div class="vp" style="top:51px">0</div>
<div class="vn" style="top:63.40px">0</div>
<div class="pin" style="top:49px">1195</div>
<div class="rn" style="top:79.90px">DBL</div>
<div class="rs" style="top:95.90px">DBL</div>
<div class="vp" style="top:82px">2</div>
<div class="vn" style="top:94.40px">0</div>
<div class="pin" style="top:80.30px">1200</div>
</div>
</div>
<div class="card faded" style="top:856px;transform:translateY(0.50px)">
<div class="bar"><span>UNSOLD</span><span>SGL</span><span>DUS</span><span>DBL</span><span>TWIN</span><span>TPL</span><span>QDL</span></div>
<div class="lbl l1"><svg class="star" viewBox="0 0 24 24"><path d="M12 2.6 L14.9 8.8 L21.6 9.6 L16.7 14.2 L18 20.9 L12 17.6 L6 20.9 L7.3 14.2 L2.4 9.6 L9.1 8.8 Z" fill="none" stroke="#f7c325" stroke-width="2.2" stroke-linejoin="round"/></svg>Wed 01-01-2025</div>
<div class="lbl l2"><svg class="star b" viewBox="0 0 24 24"><path d="M12 2.6 L14.9 8.8 L21.6 9.6 L16.7 14.2 L18 20.9 L12 17.6 L6 20.9 L7.3 14.2 L2.4 9.6 L9.1 8.8 Z" fill="none" stroke="#2e86c9" stroke-width="2.2" stroke-linejoin="round"/></svg>Wed 03-01-2024</div>
<div class="row r1"><div class="un">11</div><div class="c1" style="left:63px"><i>0</i><b class="g"></b></div><div class="c1" style="left:127px"><i>N/A</i><b class="g"></b></div><div class="c1" style="left:191px"><i>6</i><b class="g"></b></div><div class="c1" style="left:255px"><i>2</i><b class="g"></b></div><div class="c1" style="left:319px"><i>2</i><b class="g"></b></div><div class="c1" style="left:383px"><i>1</i><b class="g"></b></div></div>
<div class="row r2"><div class="un">1</div><div class="c2" style="left:63px">1</div><div class="c2" style="left:127px">N/A</div><div class="c2" style="left:191px">6</div><div class="c2" style="left:255px">1</div><div class="c2" style="left:319px">1</div><div class="c2" style="left:383px">0</div></div>
<div class="vs" style="left:936px"></div>
<div class="vs" style="left:1038px"></div>
<div class="vs" style="left:1140px"></div>
<div class="vs" style="left:1242px"></div>
<div class="kc" style="left:937.35px"><div class="kh">OCC</div><div class="k1">9</div><div class="k2">11</div></div>
<div class="kc" style="left:1039.42px"><div class="kh">ADR</div><div class="k1">€439.00</div><div class="k2">€328.91</div></div>
<div class="kc grn" style="left:1141.49px"><div class="kh">RPAR</div><div class="k1">€197.00</div><div class="k2">€180.90</div></div>
<div class="ps"><div class="vrh">VR(+/-)</div><div class="prh">Price</div>
<div class="rn" style="top:17.90px">SGL</div>
<div class="rs" style="top:33.90px">DBL-10</div>
<div class="vp" style="top:20px">1</div>
<div class="vn" style="top:32.40px">1</div>
<div class="pin" style="top:17.70px">570</div>
<div class="rn" style="top:48.90px">DUS</div>
<div class="rs" style="top:64.90px">DBL-5</div>
<div class="vp" style="top:51px">0</div>
<div class="vn" style="top:63.40px">0</div>
<div class="pin" style="top:49px">575</div>
<div class="rn" style="top:79.90px">DBL</div>
<div class="rs" style="top:95.90px">DBL</div>
<div class="vp" style="top:82px">0</div>
<div class="vn" style="top:94.40px">0</div>
<div class="pin" style="top:80.30px">580</div>
</div>
</div>
</div>
<div id="bbar">
<div class="bb" style="left:15.6px;width:22.8px"><svg viewBox="0 0 22.8 20.4" style="left:-1px;top:-1px;width:22.8px;height:20.4px"><rect x="10.3" y="6.1" width="2.3" height="2.2" rx=".6" fill="#444"/><rect x="10.3" y="9.9" width="2.3" height="2.2" rx=".6" fill="#444"/><rect x="10.3" y="13.9" width="2.3" height="2.2" rx=".6" fill="#444"/></svg></div>
<div class="bb" style="left:46px;width:23.6px"><svg viewBox="0 0 23.6 20.4" style="left:-1px;top:-1px;width:23.6px;height:20.4px"><path d="M7.2 6.2 V17.4" stroke="#333" stroke-width="2" fill="none"/><path d="M7.2 6.9 H17 M7.2 16.6 H17" stroke="#3a3a3a" stroke-width="1.5" fill="none"/><path d="M7.2 10 H14.6 M7.2 13.2 H14.6" stroke="#666" stroke-width="1" fill="none"/></svg></div>
<div class="bsep"></div>
<div class="sta">STA Year</div>
<div class="auto">AUTO<svg viewBox="0 0 10 6"><path d="M0.3 0.4 H9.7 L5 5.7 Z" fill="#7a7a7a"/></svg></div>
<div class="bb" style="left:206.4px;top:5.7px;width:21.9px;height:22px;background:#fbfbfb;border-radius:3px"><svg viewBox="0 0 21.9 22" style="left:-1px;top:-1px;width:21.9px;height:22px"><path d="M7.6 7.2 A5.4 5.4 0 0 1 16.7 11.9" stroke="#55558c" stroke-width="1.4" fill="none"/><path d="M15.2 14.8 A5.4 5.4 0 0 1 6.1 10.1" stroke="#55558c" stroke-width="1.4" fill="none"/><rect x="5.9" y="5.7" width="3" height="2.9" fill="#1d1d5e" transform="rotate(-20 7.4 7.1)"/><rect x="13.9" y="13.4" width="3" height="2.9" fill="#1d1d5e" transform="rotate(-20 15.4 14.8)"/></svg></div>
</div>
<div id="pshadow"></div>
<div id="panel">
<div id="ptitle">Reference room: DBL</div>
<svg id="pclose" viewBox="0 0 16 16"><path d="M2 2 L14 14 M14 2 L2 14" stroke="#555" stroke-width="1.65" stroke-linecap="round"/></svg>
<div id="applyall">APPLY ALL</div>
<div class="prow" style="top:84px"><span class="pd">2024-12-11</span><span class="pa">129<svg class="parr" viewBox="0 0 15 14"><path d="M1.5 7 H13 M7.8 1.6 L13.4 7 L7.8 12.4" fill="none" stroke="#333" stroke-width="1.7" stroke-linecap="round" stroke-linejoin="round"/></svg><span class="pb">120.5<span class="dn_">[-8.5]</span></span></span><span class="sq" style="background:#ff0000"></span><span class="ap">APPLY</span></div>
<div class="prow" style="top:115.61px"><span class="pd">2024-12-12</span><span class="pa">129<svg class="parr" viewBox="0 0 15 14"><path d="M1.5 7 H13 M7.8 1.6 L13.4 7 L7.8 12.4" fill="none" stroke="#333" stroke-width="1.7" stroke-linecap="round" stroke-linejoin="round"/></svg><span class="pb">122<span class="dn_">[-7]</span></span></span><span class="sq" style="background:#ff0000"></span><span class="ap">APPLY</span></div>
<div class="prow" style="top:147.22px"><span class="pd">2024-12-13</span><span class="pa">159<svg class="parr" viewBox="0 0 15 14"><path d="M1.5 7 H13 M7.8 1.6 L13.4 7 L7.8 12.4" fill="none" stroke="#333" stroke-width="1.7" stroke-linecap="round" stroke-linejoin="round"/></svg><span class="pb">160<span class="dp_">[1]</span></span></span><span class="sq" style="background:#ffa500"></span><span class="ap">APPLY</span></div>
<div class="prow" style="top:178.83px"><span class="pd">2024-12-14</span><span class="pa">239<svg class="parr" viewBox="0 0 15 14"><path d="M1.5 7 H13 M7.8 1.6 L13.4 7 L7.8 12.4" fill="none" stroke="#333" stroke-width="1.7" stroke-linecap="round" stroke-linejoin="round"/></svg><span class="pb">240.5<span class="dp_">[1.5]</span></span></span><span class="sq" style="background:#ffa500"></span><span class="ap">APPLY</span></div>
<div class="prow" style="top:210.44px"><span class="pd">2024-12-15</span><span class="pa">129<svg class="parr" viewBox="0 0 15 14"><path d="M1.5 7 H13 M7.8 1.6 L13.4 7 L7.8 12.4" fill="none" stroke="#333" stroke-width="1.7" stroke-linecap="round" stroke-linejoin="round"/></svg><span class="pb">129<span class="dn_">[0]</span></span></span><span class="sq" style="background:#008000"></span><span class="ap">APPLY</span></div>
<div class="prow" style="top:242.05px"><span class="pd">2024-12-16</span><span class="pa">129<svg class="parr" viewBox="0 0 15 14"><path d="M1.5 7 H13 M7.8 1.6 L13.4 7 L7.8 12.4" fill="none" stroke="#333" stroke-width="1.7" stroke-linecap="round" stroke-linejoin="round"/></svg><span class="pb">127.5<span class="dn_">[-1.5]</span></span></span><span class="sq" style="background:#ffa500"></span><span class="ap">APPLY</span></div>
<div class="prow" style="top:273.66px"><span class="pd">2024-12-17</span><span class="pa">139<svg class="parr" viewBox="0 0 15 14"><path d="M1.5 7 H13 M7.8 1.6 L13.4 7 L7.8 12.4" fill="none" stroke="#333" stroke-width="1.7" stroke-linecap="round" stroke-linejoin="round"/></svg><span class="pb">137.5<span class="dn_">[-1.5]</span></span></span><span class="sq" style="background:#ffa500"></span><span class="ap">APPLY</span></div>
<div class="prow" style="top:305.27px"><span class="pd">2024-12-18</span><span class="pa">139<svg class="parr" viewBox="0 0 15 14"><path d="M1.5 7 H13 M7.8 1.6 L13.4 7 L7.8 12.4" fill="none" stroke="#333" stroke-width="1.7" stroke-linecap="round" stroke-linejoin="round"/></svg><span class="pb">138.5<span class="dn_">[-0.5]</span></span></span><span class="sq" style="background:#ffa500"></span><span class="ap">APPLY</span></div>
<div class="prow" style="top:336.88px"><span class="pd">2024-12-19</span><span class="pa">139<svg class="parr" viewBox="0 0 15 14"><path d="M1.5 7 H13 M7.8 1.6 L13.4 7 L7.8 12.4" fill="none" stroke="#333" stroke-width="1.7" stroke-linecap="round" stroke-linejoin="round"/></svg><span class="pb">135<span class="dn_">[-4]</span></span></span><span class="sq" style="background:#ffa500"></span><span class="ap">APPLY</span></div>
<div class="prow" style="top:368.49px"><span class="pd">2024-12-20</span><span class="pa">199<svg class="parr" viewBox="0 0 15 14"><path d="M1.5 7 H13 M7.8 1.6 L13.4 7 L7.8 12.4" fill="none" stroke="#333" stroke-width="1.7" stroke-linecap="round" stroke-linejoin="round"/></svg><span class="pb">215<span class="dp_">[16]</span></span></span><span class="sq" style="background:#ff0000"></span><span class="ap">APPLY</span></div>
<div class="prow" style="top:400.10px"><span class="pd">2024-12-21</span><span class="pa">279<svg class="parr" viewBox="0 0 15 14"><path d="M1.5 7 H13 M7.8 1.6 L13.4 7 L7.8 12.4" fill="none" stroke="#333" stroke-width="1.7" stroke-linecap="round" stroke-linejoin="round"/></svg><span class="pb">325<span class="dp_">[46]</span></span></span><span class="sq" style="background:#ff0000"></span><span class="ap">APPLY</span></div>
<div class="prow" style="top:431.71px"><span class="pd">2024-12-22</span><span class="pa">219<svg class="parr" viewBox="0 0 15 14"><path d="M1.5 7 H13 M7.8 1.6 L13.4 7 L7.8 12.4" fill="none" stroke="#333" stroke-width="1.7" stroke-linecap="round" stroke-linejoin="round"/></svg><span class="pb">261.5<span class="dp_">[42.5]</span></span></span><span class="sq" style="background:#ff0000"></span><span class="ap">APPLY</span></div>
<div class="prow" style="top:463.32px"><span class="pd">2024-12-23</span><span class="pa">289<svg class="parr" viewBox="0 0 15 14"><path d="M1.5 7 H13 M7.8 1.6 L13.4 7 L7.8 12.4" fill="none" stroke="#333" stroke-width="1.7" stroke-linecap="round" stroke-linejoin="round"/></svg><span class="pb">289<span class="dn_">[0]</span></span></span><span class="sq" style="background:#008000"></span><span class="ap">APPLY</span></div>
<div class="prow" style="top:494.93px"><span class="pd">2024-12-24</span><span class="pa">319<svg class="parr" viewBox="0 0 15 14"><path d="M1.5 7 H13 M7.8 1.6 L13.4 7 L7.8 12.4" fill="none" stroke="#333" stroke-width="1.7" stroke-linecap="round" stroke-linejoin="round"/></svg><span class="pb">325<span class="dp_">[6]</span></span></span><span class="sq" style="background:#ff0000"></span><span class="ap">APPLY</span></div>
<div class="prow" style="top:526.54px"><span class="pd">2024-12-25</span><span class="pa">319<svg class="parr" viewBox="0 0 15 14"><path d="M1.5 7 H13 M7.8 1.6 L13.4 7 L7.8 12.4" fill="none" stroke="#333" stroke-width="1.7" stroke-linecap="round" stroke-linejoin="round"/></svg><span class="pb">325<span class="dp_">[6]</span></span></span><span class="sq" style="background:#ff0000"></span><span class="ap">APPLY</span></div>
<div class="prow" style="top:558.15px"><span class="pd">2024-12-26</span><span class="pa">299<svg class="parr" viewBox="0 0 15 14"><path d="M1.5 7 H13 M7.8 1.6 L13.4 7 L7.8 12.4" fill="none" stroke="#333" stroke-width="1.7" stroke-linecap="round" stroke-linejoin="round"/></svg><span class="pb">312<span class="dp_">[13]</span></span></span><span class="sq" style="background:#ff0000"></span><span class="ap">APPLY</span></div>
<div class="prow" style="top:589.76px"><span class="pd">2024-12-27</span><span class="pa">329<svg class="parr" viewBox="0 0 15 14"><path d="M1.5 7 H13 M7.8 1.6 L13.4 7 L7.8 12.4" fill="none" stroke="#333" stroke-width="1.7" stroke-linecap="round" stroke-linejoin="round"/></svg><span class="pb">324.5<span class="dn_">[-4.5]</span></span></span><span class="sq" style="background:#ffa500"></span><span class="ap">APPLY</span></div>
<div class="prow" style="top:621.37px"><span class="pd">2024-12-28</span><span class="pa">349<svg class="parr" viewBox="0 0 15 14"><path d="M1.5 7 H13 M7.8 1.6 L13.4 7 L7.8 12.4" fill="none" stroke="#333" stroke-width="1.7" stroke-linecap="round" stroke-linejoin="round"/></svg><span class="pb">352.5<span class="dp_">[3.5]</span></span></span><span class="sq" style="background:#ffa500"></span><span class="ap">APPLY</span></div>
<div class="prow" style="top:652.98px"><span class="pd">2024-12-29</span><span class="pa">419<svg class="parr" viewBox="0 0 15 14"><path d="M1.5 7 H13 M7.8 1.6 L13.4 7 L7.8 12.4" fill="none" stroke="#333" stroke-width="1.7" stroke-linecap="round" stroke-linejoin="round"/></svg><span class="pb">433.5<span class="dp_">[14.5]</span></span></span><span class="sq" style="background:#ff0000"></span><span class="ap">APPLY</span></div>
<div class="prow" style="top:684.59px"><span class="pd">2024-12-30</span><span class="pa">600<svg class="parr" viewBox="0 0 15 14"><path d="M1.5 7 H13 M7.8 1.6 L13.4 7 L7.8 12.4" fill="none" stroke="#333" stroke-width="1.7" stroke-linecap="round" stroke-linejoin="round"/></svg><span class="pb">494.5<span class="dn_">[-105.5]</span></span></span><span class="sq" style="background:#ff0000"></span><span class="ap">APPLY</span></div>
<div class="prow" style="top:716.20px"><span class="pd">2024-12-31</span><span class="pa">1200<svg class="parr" viewBox="0 0 15 14"><path d="M1.5 7 H13 M7.8 1.6 L13.4 7 L7.8 12.4" fill="none" stroke="#333" stroke-width="1.7" stroke-linecap="round" stroke-linejoin="round"/></svg><span class="pb">909.5<span class="dn_">[-290.5]</span></span></span><span class="sq" style="background:#ff0000"></span><span class="ap">APPLY</span></div>
</div>
<div id="strk"></div><div id="sbar"></div>
</div></div></body></html>
